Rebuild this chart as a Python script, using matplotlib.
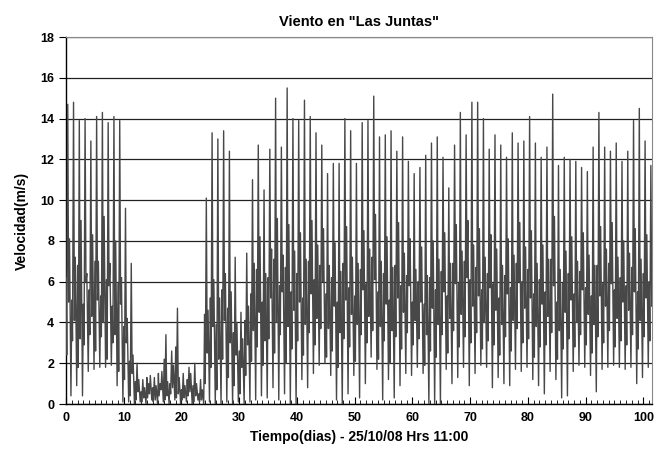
import matplotlib.pyplot as plt
from matplotlib.ticker import MultipleLocator

# daily wind cycle at "Las Juntas" (m/s)
DAYS = list(range(102))
PEAK = [14.7, 14.8, 13.9, 14.0, 12.9, 14.1, 14.3, 13.8, 14.1, 13.9,
        9.6, 6.9, 2.0, 1.2, 1.0, 1.3, 1.0, 3.4, 2.6, 4.7,
        1.5, 1.8, 2.0, 1.2, 10.1, 13.3, 13.0, 13.4, 12.4, 7.2,
        4.5, 7.4, 11.0, 12.7, 10.5, 12.5, 15.0, 12.6, 15.5, 14.0,
        13.9, 14.9, 14.1, 13.3, 12.7, 11.3, 11.8, 11.8, 14.0, 13.4,
        11.8, 13.8, 13.9, 15.1, 13.1, 13.2, 13.4, 12.4, 13.1, 11.9,
        11.3, 11.6, 12.2, 12.8, 13.1, 12.1, 10.6, 12.7, 14.3, 13.2,
        14.8, 14.8, 14.0, 12.5, 13.2, 12.7, 12.1, 13.3, 12.8, 12.9,
        14.1, 12.8, 12.1, 12.6, 15.2, 11.7, 12.1, 12.0, 11.9, 11.6,
        11.4, 12.6, 14.3, 12.6, 12.4, 12.8, 11.9, 12.4, 13.9, 14.5,
        12.9, 11.7]
DIP = [5.0, 4.1, 3.2, 6.0, 4.3, 5.1, 4.0, 5.8, 3.4, 4.9,
       3.0, 1.5, 0.6, 0.3, 0.5, 0.2, 0.7, 0.4, 0.8, 0.5,
       0.3, 0.6, 0.4, 0.2, 2.5, 3.8, 2.2, 4.1, 3.0, 2.4,
       1.8, 2.9, 3.6, 4.5, 3.1, 5.2, 4.0, 5.5, 3.8, 4.6,
       5.0, 3.9, 5.4, 4.2, 6.0, 3.7, 4.8, 3.5, 5.1, 4.4,
       3.9, 5.6, 4.3, 6.1, 3.8, 4.9, 3.6, 5.2, 4.5, 5.8,
       4.1, 5.0, 3.4, 4.7, 3.9, 5.5, 4.2, 5.9, 4.4, 6.2,
       4.8, 5.3, 4.0, 5.7, 4.6, 3.9, 5.4, 4.1, 6.0, 4.7,
       5.2, 3.8, 4.9, 4.3, 5.8, 3.6, 4.5, 5.1, 4.0, 5.6,
       4.4, 3.9, 5.3, 4.8, 5.9, 4.2, 5.0, 4.6, 5.5, 4.1,
       5.2, 4.8]
EVE = [8.1, 7.2, 9.0, 6.4, 8.3, 7.0, 9.2, 6.9, 8.0, 6.2,
       4.2, 2.4, 1.2, 0.8, 1.4, 0.9, 1.6, 1.1, 1.9, 1.3,
       0.9, 1.5, 1.0, 0.7, 4.6, 6.1, 5.2, 6.4, 5.5, 4.0,
       3.2, 4.8, 6.9, 8.2, 6.4, 7.6, 9.1, 7.3, 8.8, 7.5,
       8.4, 7.1, 9.0, 7.8, 8.6, 6.8, 7.9, 6.5, 8.7, 7.2,
       6.9, 8.5, 7.6, 9.3, 7.0, 8.2, 6.7, 8.9, 7.4, 8.1,
       6.6, 7.7, 6.3, 8.0, 7.1, 8.4, 6.9, 8.8, 7.5, 9.0,
       7.8, 8.6, 7.2, 8.3, 7.6, 6.8, 8.1, 7.3, 8.9, 7.7,
       8.5, 6.9, 7.8, 7.1, 9.2, 6.6, 7.5, 8.2, 7.0, 8.4,
       7.3, 6.8, 8.7, 7.6, 8.9, 7.2, 8.0, 7.4, 8.6, 7.1,
       8.3, 7.9]
LOW = [0.4, 0.9, 0.4, 1.6, 1.7, 1.8, 1.8, 1.9, 0.9, 0.1,
       0.1, 0.0, 0.1, 0.0, 0.2, 0.0, 0.1, 0.0, 0.2, 0.0,
       0.1, 0.0, 0.2, 0.0, 0.1, 0.0, 0.0, 0.1, 0.0, 0.1,
       0.0, 0.1, 0.2, 0.4, 0.3, 0.8, 0.2, 0.5, 0.0, 0.0,
       1.2, 0.8, 1.5, 1.9, 2.0, 1.4, 0.2, 0.0, 0.5, 1.4,
       0.3, 1.0, 2.3, 1.7, 0.2, 1.2, 0.3, 0.9, 1.5, 1.4,
       1.8, 1.5, 0.0, 0.0, 0.0, 1.7, 1.0, 1.3, 1.8, 0.9,
       1.5, 1.9, 1.8, 0.8, 1.3, 1.0, 0.9, 1.7, 1.6, 1.8,
       1.2, 0.9, 0.5, 1.6, 1.2, 0.3, 0.4, 1.6, 1.9, 1.8,
       1.4, 0.6, 1.7, 1.8, 1.9, 1.8, 1.7, 1.8, 1.0, 1.3,
       1.8, 3.0]
# small bump and dip in the early-morning hours before the rise
MBUMP = [6.2, 5.1, 6.8, 4.9, 5.6, 7.0, 5.3, 6.1, 4.8, 5.9,
         3.8, 2.1, 1.1, 0.6, 1.3, 0.8, 1.5, 2.2, 1.0, 2.8,
         0.7, 1.2, 0.9, 0.5, 4.4, 5.2, 3.9, 5.6, 4.7, 3.5,
         2.6, 4.1, 5.4, 6.6, 5.0, 6.2, 7.1, 5.8, 6.7, 5.5,
         6.4, 5.2, 7.0, 6.1, 6.8, 5.4, 6.2, 5.0, 6.9, 5.7,
         5.3, 6.6, 5.9, 7.2, 5.5, 6.4, 5.1, 6.8, 5.8, 6.3,
         5.0, 6.0, 4.9, 6.2, 5.6, 6.5, 5.3, 6.9, 5.9, 7.0,
         6.1, 6.7, 5.6, 6.4, 5.9, 5.2, 6.3, 5.7, 6.9, 6.0,
         6.6, 5.4, 6.1, 5.5, 7.1, 5.0, 5.9, 6.4, 5.4, 6.5,
         5.7, 5.3, 6.8, 5.9, 6.9, 5.6, 6.2, 5.8, 6.7, 5.5,
         6.4, 6.0]
MDIP = [2.4, 3.1, 1.8, 2.9, 3.4, 2.6, 3.3, 2.2, 3.0, 1.6,
        1.2, 0.4, 0.2, 0.1, 0.3, 0.1, 0.4, 0.2, 0.5, 0.3,
        0.2, 0.4, 0.1, 0.1, 1.0, 1.8, 0.7, 2.2, 1.3, 0.9,
        0.5, 1.4, 2.1, 2.8, 1.9, 3.2, 2.5, 3.4, 2.0, 2.7,
        3.1, 2.4, 3.5, 2.9, 3.7, 2.3, 2.6, 1.8, 3.2, 2.8,
        2.1, 3.4, 3.0, 3.6, 2.2, 3.1, 2.0, 3.3, 2.7, 3.5,
        2.9, 3.2, 1.9, 2.6, 2.3, 3.4, 2.5, 3.6, 2.8, 3.3,
        3.0, 3.5, 2.7, 3.1, 2.9, 2.4, 3.3, 2.6, 3.7, 3.0,
        3.2, 2.3, 2.8, 2.9, 3.5, 2.2, 2.7, 3.2, 2.8, 3.4,
        2.9, 2.5, 3.3, 3.0, 3.6, 2.8, 3.1, 2.9, 3.4, 2.7,
        3.3, 3.1]

# one day -> morning bump/dip, peak, dip, evening bump, night low
t, v = [], []
for d, mb, md, p, dp, e, lo in zip(DAYS, MBUMP, MDIP, PEAK, DIP, EVE, LOW):
    t += [d + 0.0, d + 0.12, d + 0.3, d + 0.45, d + 0.6, d + 0.85]
    v += [mb, md, p, dp, e, lo]

plt.rcParams.update({
    "font.family": ["Liberation Sans", "DejaVu Sans"],
    "font.weight": "bold",
})

fig = plt.figure(figsize=(6.59, 4.62), dpi=100)
ax = fig.add_axes([0.1002, 0.1255, 0.8892, 0.7944])

ax.plot(t, v, color="#484848", lw=1.0, zorder=3)

ax.set_xlim(0, 101.5)
ax.set_ylim(0, 18)
ax.yaxis.set_major_locator(MultipleLocator(2))
ax.xaxis.set_major_locator(MultipleLocator(10))
ax.xaxis.set_minor_locator(MultipleLocator(1))
ax.grid(axis="y", color="#222222", lw=0.9, zorder=1)

ax.tick_params(axis="x", which="major", direction="in", length=5, width=0.8,
               labelsize=9, pad=6)
ax.tick_params(axis="x", which="minor", direction="in", length=3, width=0.6)
ax.tick_params(axis="y", direction="out", length=5, width=0.8, labelsize=9)

for s in ["top", "right"]:
    ax.spines[s].set_color("#888888")
for s in ["left", "bottom"]:
    ax.spines[s].set_color("black")
    ax.spines[s].set_linewidth(1.0)

ax.set_title('Viento en "Las Juntas"', fontsize=10.5, fontweight="bold", pad=8)
ax.set_xlabel("Tiempo(dias) - 25/10/08 Hrs 11:00", fontsize=10, fontweight="bold",
              labelpad=4)
ax.set_ylabel("Velocidad(m/s)", fontsize=10, fontweight="bold", labelpad=8)

fig.savefig("out.png", dpi=100)
